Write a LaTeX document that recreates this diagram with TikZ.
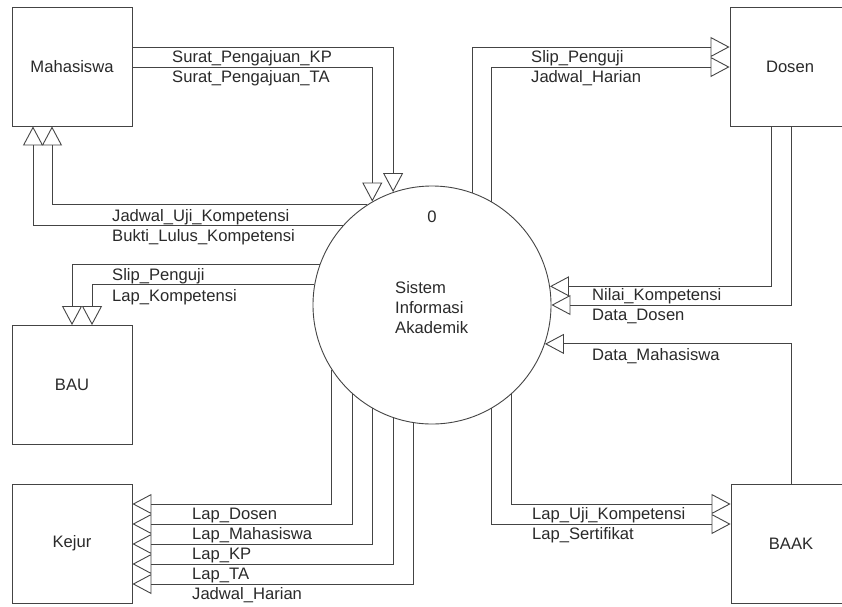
\documentclass[tikz,border=0pt]{standalone}
\usepackage{fontspec}
\setmainfont{Liberation Sans}
\usetikzlibrary{arrows.meta}
\definecolor{lc}{HTML}{444444}
\definecolor{tc}{HTML}{2A2A2A}
\begin{document}
\begin{tikzpicture}[x=1pt,y=-1pt,
  ent/.style={draw=lc, line width=0.9pt, minimum width=120pt, minimum height=119pt, inner sep=0pt, font=\fontsize{16.6}{20}\selectfont, text=tc},
  proc/.style={draw=lc, line width=0.9pt, circle, minimum size=238pt, inner sep=0pt},
  flow/.style={draw=lc, line width=0.9pt, -{Triangle[open,length=19pt,width=20pt]}},
  lbl/.style={anchor=base west, inner sep=0pt, font=\fontsize{16.6}{20}\selectfont, text=tc},
  ptxt/.style={anchor=base west, inner sep=0pt, font=\fontsize{16.6}{20}\selectfont, text=tc}]
\clip (0,0) rectangle (842,606);
\fill[white] (0,0) rectangle (842,606);
% process
\node[proc] (P) at (432,305) {};
\node[ptxt, anchor=base] (pnum) at (432,222) {0};
\node[ptxt] (pt1) at (395,293) {Sistem};
\node[ptxt] (pt2) at (395,313) {Informasi};
\node[ptxt] (pt3) at (395,333) {Akademik};
% entities
\node[ent] (mhs) at (72,66.5) {Mahasiswa};
\node[ent] (dos) at (790,66.5) {Dosen};
\node[ent] (bau) at (72,385) {BAU};
\node[ent] (kej) at (72,543.5) {Kejur};
\node[ent] (baak) at (791,543.5) {BAAK};
% Mahasiswa -> P
\draw[flow] (mhs.east |- 0,47) -| (P.109.64);
\draw[flow] (mhs.east |- 0,67) -| (P.120.28);
\node[lbl] (l1) at (172,62) {Surat\_Pengajuan\_KP};
\node[lbl] (l2) at (172,82) {Surat\_Pengajuan\_TA};
% P -> Mahasiswa
\draw[flow] (P.123.70) -| (mhs.south -| 52,0);
\draw[flow] (P.138.41) -| (mhs.south -| 33,0);
\node[lbl] (l3) at (112,221) {Jadwal\_Uji\_Kompetensi};
\node[lbl] (l4) at (112,241) {Bukti\_Lulus\_Kompetensi};
% P -> Dosen
\draw[flow] (P.70.87) |- (dos.west |- 0,47);
\draw[flow] (P.60.28) |- (dos.west |- 0,67);
\node[lbl] (l5) at (531,62) {Slip\_Penguji};
\node[lbl] (l6) at (531,82) {Jadwal\_Harian};
% Dosen -> P
\draw[flow] (dos.south -| 771,0) |- (P.9.67);
\draw[flow] (dos.south -| 791,0) |- (P.0);
\node[lbl] (l7) at (592,300) {Nilai\_Kompetensi};
\node[lbl] (l8) at (592,320) {Data\_Dosen};
% BAAK -> P
\draw[flow] (baak.north -| 791,0) |- (P.-19.64);
\node[lbl] (l9) at (592,360) {Data\_Mahasiswa};
% P -> BAAK
\draw[flow] (P.-48.41) |- (baak.west |- 0,504);
\draw[flow] (P.-60.28) |- (baak.west |- 0,524);
\node[lbl] (l10) at (532,519) {Lap\_Uji\_Kompetensi};
\node[lbl] (l11) at (532,539) {Lap\_Sertifikat};
% P -> BAU
\draw[flow] (P.160.36) -| (bau.north -| 72,0);
\draw[flow] (P.170.81) -| (bau.north -| 92,0);
\node[lbl] (l12) at (112,280) {Slip\_Penguji};
\node[lbl] (l13) at (112,301) {Lap\_Kompetensi};
% P -> Kejur
\draw[flow] (P.-147.17) |- (kej.east |- 0,504);
\draw[flow] (P.-132.24) |- (kej.east |- 0,524);
\draw[flow] (P.-120.28) |- (kej.east |- 0,544);
\draw[flow] (P.-109.64) |- (kej.east |- 0,564);
\draw[flow] (P.-99.68) |- (kej.east |- 0,584);
\node[lbl] (l14) at (192,519) {Lap\_Dosen};
\node[lbl] (l15) at (192,539) {Lap\_Mahasiswa};
\node[lbl] (l16) at (192,559) {Lap\_KP};
\node[lbl] (l17) at (192,579) {Lap\_TA};
\node[lbl] (l18) at (192,599) {Jadwal\_Harian};
\end{tikzpicture}
\end{document}
